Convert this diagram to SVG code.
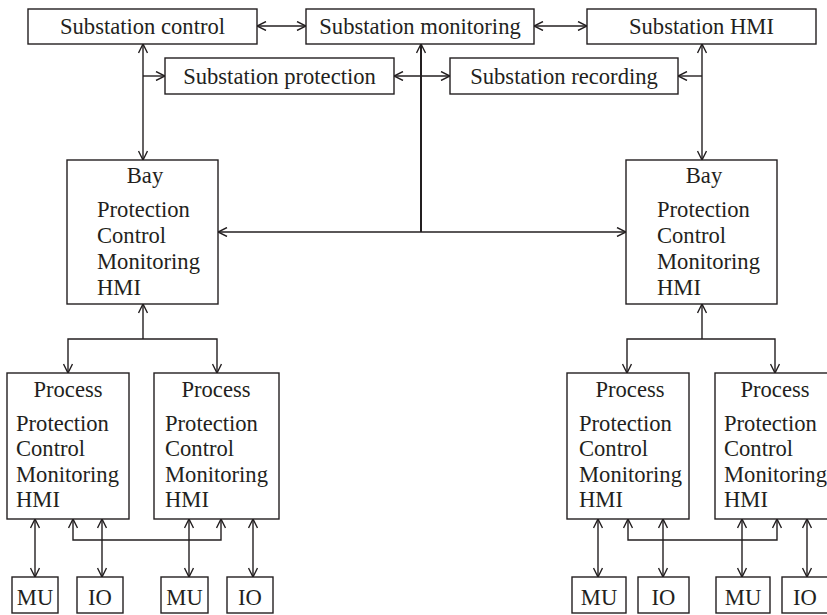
<svg xmlns="http://www.w3.org/2000/svg" width="827" height="615" viewBox="0 0 827 615">
<style>
rect{fill:#fff;stroke:#231f20;stroke-width:1.4}
text{font-family:"Liberation Serif","Times New Roman",serif;font-size:22.6px;fill:#231f20}
.c{text-anchor:middle}
#connectors path{fill:none;stroke:#231f20;stroke-width:1.4}
#connectors .b{marker-start:url(#a);marker-end:url(#a)}
#connectors .e{marker-end:url(#a)}
#connectors .s{marker-start:url(#a)}
</style>
<defs>
<marker id="a" viewBox="0 0 10 10" refX="10" refY="5" markerWidth="10" markerHeight="10" markerUnits="userSpaceOnUse" orient="auto-start-reverse">
<path d="M1,0.5 L10,5 L1,9.5" fill="none" stroke="#231f20" stroke-width="1.4"/>
</marker>
</defs>
<rect x="0" y="0" width="827" height="615" style="stroke:none"/>
<g id="connectors">
<path class="b" d="M257,26 H306"/>
<path class="b" d="M534,26 H587"/>
<path class="b" d="M143,44 V160"/>
<path class="e" d="M143,76 H165"/>
<path class="s" d="M421,44 V232" style="stroke-width:2"/>
<path class="b" d="M394,76 H450"/>
<path class="b" d="M702,44 V160"/>
<path class="e" d="M702,76 H678"/>
<path class="b" d="M218,232 H626"/>
<path class="b" d="M68,373 V339 H217 V373"/>
<path class="e" d="M143,339 V304"/>
<path class="b" d="M627,373 V339 H775 V373"/>
<path class="e" d="M702,339 V304"/>
<path class="b" d="M35,519 V577"/>
<path class="b" d="M102,519 V577"/>
<path class="b" d="M189,519 V577"/>
<path class="b" d="M253,519 V577"/>
<path class="b" d="M598,519 V577"/>
<path class="b" d="M663,519 V577"/>
<path class="b" d="M742,519 V577"/>
<path class="b" d="M807,519 V577"/>
<path class="b" d="M73,519 V540 H221 V519"/>
<path class="b" d="M628,519 V540 H777 V519"/>
</g>
<g id="sub-control"><rect x="28" y="9" width="229" height="35"/><text class="c" x="142.5" y="34">Substation control</text></g>
<g id="sub-monitoring"><rect x="306" y="9" width="228" height="35"/><text class="c" x="420" y="34">Substation monitoring</text></g>
<g id="sub-hmi"><rect x="587" y="9" width="229" height="35"/><text class="c" x="701.5" y="34">Substation HMI</text></g>
<g id="sub-protection"><rect x="165" y="58" width="229" height="36"/><text class="c" x="279.5" y="84">Substation protection</text></g>
<g id="sub-recording"><rect x="450" y="58" width="228" height="36"/><text class="c" x="564" y="84">Substation recording</text></g>
<g id="bay-left"><rect x="67" y="160" width="151" height="144"/><text class="c" x="145" y="183">Bay</text><text x="97" y="217">Protection</text><text x="97" y="243">Control</text><text x="97" y="269">Monitoring</text><text x="97" y="295">HMI</text></g>
<g id="bay-right"><rect x="626" y="160" width="151" height="144"/><text class="c" x="704" y="183">Bay</text><text x="657" y="217">Protection</text><text x="657" y="243">Control</text><text x="657" y="269">Monitoring</text><text x="657" y="295">HMI</text></g>
<g id="process-1"><rect x="7" y="373" width="122" height="146"/><text class="c" x="68" y="397">Process</text><text x="16" y="431">Protection</text><text x="16" y="456">Control</text><text x="16" y="482">Monitoring</text><text x="16" y="507">HMI</text></g>
<g id="process-2"><rect x="154" y="373" width="125" height="146"/><text class="c" x="216" y="397">Process</text><text x="165" y="431">Protection</text><text x="165" y="456">Control</text><text x="165" y="482">Monitoring</text><text x="165" y="507">HMI</text></g>
<g id="process-3"><rect x="567" y="373" width="122" height="146"/><text class="c" x="630" y="397">Process</text><text x="579" y="431">Protection</text><text x="579" y="456">Control</text><text x="579" y="482">Monitoring</text><text x="579" y="507">HMI</text></g>
<g id="process-4"><rect x="715" y="373" width="122" height="146"/><text class="c" x="775" y="397">Process</text><text x="724" y="431">Protection</text><text x="724" y="456">Control</text><text x="724" y="482">Monitoring</text><text x="724" y="507">HMI</text></g>
<g id="mu-1"><rect x="12" y="577" width="46" height="36"/><text class="c" x="35" y="605">MU</text></g>
<g id="io-1"><rect x="77" y="577" width="46" height="36"/><text class="c" x="100" y="605">IO</text></g>
<g id="mu-2"><rect x="161" y="577" width="47" height="36"/><text class="c" x="184.5" y="605">MU</text></g>
<g id="io-2"><rect x="227" y="577" width="46" height="36"/><text class="c" x="250" y="605">IO</text></g>
<g id="mu-3"><rect x="572" y="577" width="54" height="36"/><text class="c" x="599" y="605">MU</text></g>
<g id="io-3"><rect x="638" y="577" width="51" height="36"/><text class="c" x="663.5" y="605">IO</text></g>
<g id="mu-4"><rect x="716" y="577" width="54" height="36"/><text class="c" x="743" y="605">MU</text></g>
<g id="io-4"><rect x="782" y="577" width="48" height="36"/><text class="c" x="805" y="605">IO</text></g>
</svg>
